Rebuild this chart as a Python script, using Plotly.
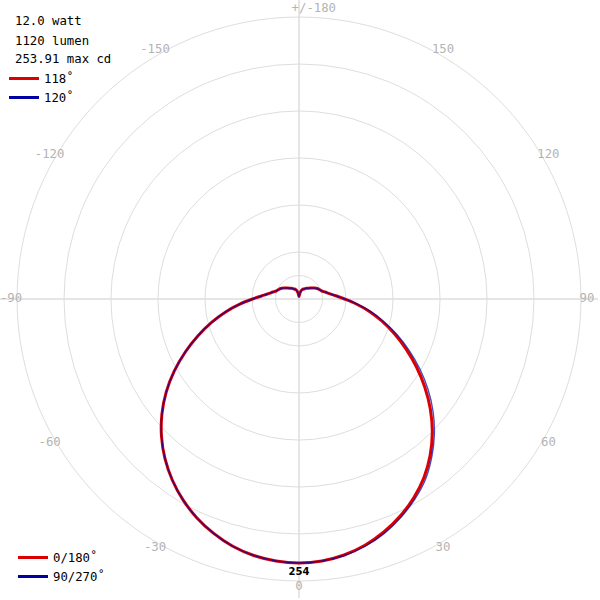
import plotly.graph_objects as go

# ---- data (candela) ----
# angles measured from nadir (0 = straight down), 5 degree steps 0..180
step_angles = list(range(0, 185, 5))

# C0/180 plane: C180 side (negative angles) and C0 side (positive angles)
red_c180 = [254.0, 253.0, 250.6, 246.3, 240.0, 232.4, 223.2, 212.6, 200.6, 187.1,
            172.2, 155.9, 138.5, 120.7, 103.4, 87.1, 71.7, 57.2, 44.7, 35.6,
            29.8, 26.0, 23.1, 21.6, 20.2, 18.3, 16.4, 14.9, 13.5, 12.5,
            11.5, 10.6, 9.6, 8.3, 6.3, 3.8, 2.4]
red_c0 = [254.0, 253.0, 250.1, 245.3, 238.6, 230.4, 220.8, 209.7, 196.3, 181.4,
          165.0, 147.7, 130.4, 113.5, 97.7, 82.7, 68.8, 55.3, 43.8, 35.6,
          29.8, 26.0, 23.1, 21.6, 20.2, 18.3, 16.4, 14.9, 13.5, 12.5,
          11.5, 10.6, 9.6, 8.3, 6.3, 3.8, 2.4]
# C90/270 plane
blue_c270 = [254.0, 253.0, 250.6, 246.3, 240.0, 232.4, 223.2, 212.6, 200.6, 187.1,
             172.2, 155.9, 138.5, 120.7, 103.4, 87.1, 71.7, 57.2, 44.7, 35.6,
             29.8, 26.0, 23.1, 21.6, 20.2, 18.3, 16.4, 14.9, 13.5, 12.5,
             11.5, 10.6, 9.6, 8.3, 6.3, 3.8, 2.4]
blue_c90 = [254.0, 253.0, 250.6, 246.3, 240.0, 231.9, 222.7, 212.1, 198.7, 184.2,
            168.4, 151.5, 134.2, 116.9, 100.5, 84.7, 70.2, 56.3, 44.3, 35.6,
            29.8, 26.0, 23.1, 21.6, 20.2, 18.3, 16.4, 14.9, 13.5, 12.5,
            11.5, 10.6, 9.6, 8.3, 6.3, 3.8, 2.4]

max_cd = 254
ring_values = [22.6, 45.2, 90.4, 135.7, 180.9, 226.1, 271.3]
angle_ticks = [0, 30, 60, 90, 120, 150, 180, -150, -120, -90, -60, -30]
angle_labels = ["0", "30", "60", "90", "120", "150", "+/-180",
                "-150", "-120", "-90", "-60", "-30"]
info_lines = ["12.0 watt", "1120 lumen", "253.91 max cd"]
beam_names = ["118˚", "120˚"]
plane_names = ["0/180˚", "90/270˚"]

# ---- geometry / style ----
W = H = 600
RADIAL_MAX = 287.7
LABEL_R = 277.1
TOP_LABEL_R = 273.0
MAX_LABEL_PAD = 4

RED = "rgb(220,0,0)"
BLUE = "rgb(0,0,165)"
MONO = "DejaVu Sans Mono"
FS = 12.3


def full_curve(neg_side, pos_side):
    th = [-a for a in step_angles[::-1]] + step_angles[1:]
    r = neg_side[::-1] + pos_side[1:]
    return th, r


fig = go.Figure()

th_r, r_r = full_curve(red_c180, red_c0)
th_b, r_b = full_curve(blue_c270, blue_c90)

fig.add_trace(go.Scatterpolar(r=r_r, theta=th_r, mode="lines",
                              line=dict(color=RED, width=3, shape="spline", smoothing=1),
                              showlegend=False, name="0/180"))
fig.add_trace(go.Scatterpolar(r=r_b, theta=th_b, mode="lines",
                              line=dict(color=BLUE, width=1.4, shape="spline", smoothing=1),
                              opacity=0.7, showlegend=False, name="90/270"))

# legend entries
for nm, col, lg in [(beam_names[0], RED, "legend"), (beam_names[1], BLUE, "legend"),
                    (plane_names[0], RED, "legend2"), (plane_names[1], BLUE, "legend2")]:
    fig.add_trace(go.Scatterpolar(r=[None], theta=[None], mode="lines",
                                  line=dict(color=col, width=3),
                                  name=nm, legend=lg))

# angle labels
positions = ["middle center"] * len(angle_ticks)
positions[6] = "top center"
radii = [LABEL_R] * len(angle_ticks)
radii[6] = TOP_LABEL_R
shown = list(angle_labels)
shown[6] = "\u00a0\u00a0\u00a0\u00a0" + angle_labels[6]
fig.add_trace(go.Scatterpolar(r=radii, theta=angle_ticks,
                              mode="text", text=shown,
                              textposition=positions, cliponaxis=False,
                              textfont=dict(family=MONO, size=FS, color="#b4b4b4"),
                              showlegend=False, hoverinfo="skip"))
# max value label
fig.add_trace(go.Scatterpolar(r=[max_cd + MAX_LABEL_PAD], theta=[0], mode="text",
                              text=["<b>%d</b>" % max_cd],
                              textposition="bottom center", cliponaxis=False,
                              textfont=dict(family="DejaVu Sans", size=10, color="black"),
                              showlegend=False, hoverinfo="skip"))

annotations = []
for i, line in enumerate(info_lines):
    y_px = [20.7, 40.7, 59.3][i]
    annotations.append(dict(text=line, xref="paper", yref="paper",
                            x=13 / W, y=1 - y_px / H, xanchor="left", yanchor="middle",
                            showarrow=False,
                            font=dict(family=MONO, size=FS, color="black")))

fig.update_layout(
    width=W, height=H,
    margin=dict(l=0, r=0, t=0, b=0),
    paper_bgcolor="white",
    annotations=annotations,
    polar=dict(
        domain=dict(x=[0, 598 / W], y=[2 / H, 1]),
        bgcolor="white",
        radialaxis=dict(range=[0, RADIAL_MAX], tickvals=ring_values,
                        showticklabels=False, ticks="", showline=False,
                        gridcolor="#dedede", gridwidth=1),
        angularaxis=dict(rotation=-90, direction="counterclockwise",
                         tickvals=[0, 90, 180, 270], showticklabels=False,
                         ticks="", showline=False,
                         gridcolor="#cccccc", gridwidth=1),
    ),
    legend=dict(x=4 / W, y=1 - 64 / H, xanchor="left", yanchor="top",
                bgcolor="rgba(0,0,0,0)",
                font=dict(family=MONO, size=FS, color="black"),
                tracegroupgap=0, itemwidth=30),
    legend2=dict(x=13 / W, y=1 - 591 / H, xanchor="left", yanchor="bottom",
                 bgcolor="rgba(0,0,0,0)",
                 font=dict(family=MONO, size=FS, color="black"),
                 tracegroupgap=0, itemwidth=30),
    showlegend=True,
)

# remove the default 8px page margin so the figure sits at the window origin
fig.write_html("out.html", config={"displayModeBar": False},
               post_script="document.body.style.margin='0px';")
